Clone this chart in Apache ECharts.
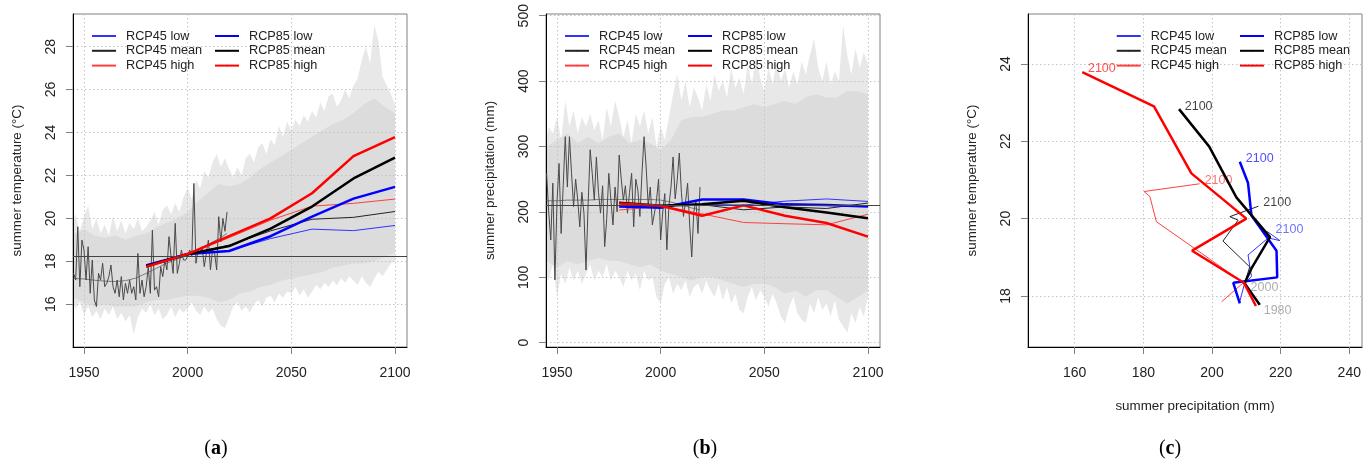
<!DOCTYPE html>
<html><head><meta charset="utf-8">
<script src="https://cdn.jsdelivr.net/npm/echarts@6/dist/echarts.min.js"></script>
<style>html,body{margin:0;padding:0;background:#fff}#c{width:1370px;height:466px}</style>
</head><body><div id="c"></div>
<script>
// ---------------- DATA ----------------
const scenYears = [1980, 2000, 2020, 2040, 2060, 2080, 2100];
const tempRcp45Low  = [17.82, 18.33, 18.50, 19.06, 19.50, 19.43, 19.67];
const tempRcp45Mean = [17.80, 18.33, 18.75, 19.42, 19.96, 20.05, 20.32];
const tempRcp45High = [17.85, 18.34, 19.10, 19.92, 20.57, 20.70, 20.90];
const tempRcp85Low  = [17.81, 18.34, 18.48, 19.17, 20.08, 20.92, 21.47];
const tempRcp85Mean = [17.77, 18.33, 18.71, 19.52, 20.55, 21.86, 22.83];
const tempRcp85High = [17.74, 18.34, 19.17, 20.00, 21.17, 22.90, 23.79];
const precRcp45Low  = [208.0, 209.5, 211.5, 210.5, 216.4, 219.8, 216.0];
const precRcp45Mean = [214.0, 209.5, 211.0, 203.2, 207.6, 205.2, 213.5];
const precRcp45High = [202.8, 209.1, 197.0, 183.8, 181.9, 180.2, 196.4];
const precRcp85Low  = [208.1, 206.2, 219.0, 218.8, 211.5, 210.5, 208.1];
const precRcp85Mean = [213.9, 209.5, 211.5, 216.9, 207.1, 199.2, 190.4];
const precRcp85High = [212.8, 209.3, 194.2, 210.0, 194.0, 183.1, 162.2];

const obsStartYear = 1945;
const obsTempA = [17.44,17.13,19.61,16.82,18.99,18.53,17.13,18.68,16.51,18.06,
  16.20,15.89,17.44,17.13,17.91,16.82,16.98,17.29,17.83,16.82,
  16.51,17.13,16.35,17.29,16.20,16.98,16.51,17.13,16.51,16.82,
  16.20,18.37,16.51,17.13,16.35,16.82,17.75,16.51,19.46,16.66,
  16.82,16.35,17.75,17.29,18.06,17.60,19.15,18.22,17.44,19.77,
  17.44,17.91,18.53,18.06,18.06,18.22,18.53,18.22,21.63,17.91,
  18.53,18.37,18.68,17.75,18.37,18.99,17.60,18.53,18.37,17.60,
  20.08,18.9,20.0,19.4,20.3];
const obsPrecB = [259,200,157,244,96,215,274,167,240,315,
  238,315,260,208,250,218,177,230,198,111,
  210,295,259,218,284,230,198,240,147,190,
  259,218,180,238,200,287,250,218,240,198,
  230,259,177,250,233,193,260,315,269,210,
  238,180,198,218,250,157,200,228,142,210,
  238,284,220,249,290,230,193,215,244,180,
  131,200,218,167,238];

const smoothYears = [1945,1950,1955,1960,1965,1970,1975,1980,1985,1990,1995,2000,2005,2010,2015,2019];
const smoothTempA = [17.2,17.18,17.12,17.08,17.06,17.1,17.22,17.44,17.68,17.92,18.1,18.3,18.55,18.8,19.05,19.3];
const smoothPrecB = [217,217,218,218,218,219,219,219,219,219,219,218,215,211,206,203];

const refTempA = 18.22;
const refPrecB = 209.5;

// ensemble envelope (every 2 years from 1944 to 2100)
const envStartYear = 1944;
const envUpperA = [19.6,20.2,19.4,20.1,20.6,19.5,20.0,19.3,19.7,19.2,
  20.1,19.4,19.9,19.3,19.8,19.5,20.0,19.4,19.6,19.9,
  20.3,19.7,20.4,20.6,20.2,20.7,20.3,21.0,21.4,20.9,
  21.8,21.4,22.2,21.9,22.6,23.0,22.4,22.8,22.3,21.9,
  22.4,22.0,22.8,23.0,22.6,23.3,23.5,23.0,23.7,23.4,
  24.3,23.8,24.5,24.1,24.6,24.3,24.8,24.5,25.0,24.7,
  25.4,25.0,25.7,25.8,25.2,25.5,26.0,25.6,26.2,26.5,
  27.4,28.0,27.2,29.0,28.3,26.6,26.2,25.8,25.3];
const envLowerA = [16.2,15.8,16.1,15.5,15.9,15.4,15.7,15.3,15.8,15.5,
  15.9,15.3,15.6,15.2,15.5,14.6,15.4,15.8,15.6,16.0,
  15.5,15.8,15.3,15.5,15.9,15.4,15.8,15.6,15.8,16.1,
  15.7,15.5,15.9,15.6,15.8,15.3,15.0,14.9,15.4,15.9,
  16.1,15.7,15.9,15.6,16.0,16.2,15.9,16.3,16.4,16.1,
  16.5,16.3,16.6,16.5,16.8,16.4,16.7,16.3,16.6,16.9,
  16.7,17.0,16.8,17.1,16.9,17.2,17.0,17.3,17.1,16.9,
  17.3,17.0,16.8,17.2,17.5,17.3,17.6,17.9,18.0];
const envUpperB = [300,330,320,345,310,370,330,355,320,345,
  330,350,325,340,310,360,330,370,345,315,
  340,305,350,330,355,320,345,300,330,310,
  345,380,410,370,400,360,390,375,355,395,
  370,410,385,400,375,420,390,405,380,425,
  395,440,405,385,420,395,430,400,420,390,
  415,395,430,410,440,465,420,400,430,395,
  415,400,485,440,410,450,420,445,425];
const envLowerB = [110,95,120,70,105,90,115,95,110,90,
  105,120,95,110,100,120,95,110,100,85,
  110,95,105,80,110,95,100,70,60,90,
  100,75,90,80,95,70,85,90,75,95,
  80,70,90,65,85,60,75,50,45,70,
  85,65,80,70,55,75,60,40,30,55,
  70,45,35,30,60,45,70,50,60,40,
  65,35,25,15,45,30,55,40,70];
// dense core of the ensemble (every 5 years, 1945-2100)
const coreStartYear = 1945;
const coreUpperA = [19.3,19.5,19.2,19.1,19.2,19.0,19.2,19.3,19.6,19.8,20.0,20.3,20.8,21.2,21.6,21.5,21.6,21.9,22.3,22.6,22.9,23.2,23.5,23.8,24.1,24.4,24.6,24.9,25.3,25.6,25.2,24.9];
const coreLowerA = [16.3,16.1,15.9,16.0,15.9,15.9,15.9,16.1,16.2,16.2,16.3,16.4,16.4,16.3,16.1,16.2,16.5,16.6,16.8,16.9,17.1,17.2,17.3,17.4,17.5,17.7,17.8,17.9,17.9,18.0,18.2,18.4];
const coreUpperB = [300,310,320,305,315,305,315,320,305,310,305,295,310,340,345,345,350,355,355,360,365,360,365,370,365,375,380,375,375,385,385,380];
const coreLowerB = [125,115,125,120,125,130,125,125,120,115,120,110,105,100,95,100,100,95,90,85,90,90,85,75,80,70,80,80,70,60,70,80];

// tick labels
const xTicksYears = [1950, 2000, 2050, 2100];
const yTicksTemp = [16, 18, 20, 22, 24, 26, 28];
const yTicksPrec = [0, 100, 200, 300, 400, 500];
const xTicksPrecC = [160, 180, 200, 220, 240];
const yTicksTempC = [18, 20, 22, 24];
const legend45 = ['RCP45 low', 'RCP45 mean', 'RCP45 high'];
const legend85 = ['RCP85 low', 'RCP85 mean', 'RCP85 high'];
const panelLetters = ['a', 'b', 'c'];

// ---------------- CHART ----------------
const FONT = "'Liberation Sans', Arial, sans-serif";
const chart = echarts.init(document.getElementById('c'), null, {renderer: 'canvas'});

function years(start, step, n) { const r = []; for (let i = 0; i < n; i++) r.push(start + i * step); return r; }
const obsYears = years(obsStartYear, 1, obsTempA.length);
const envYears = years(envStartYear, 2, envUpperA.length);
const coreYears = years(coreStartYear, 5, coreUpperA.length);

const styles = {
  'RCP45 low':  {color: '#3333ff', width: 1},
  'RCP45 mean': {color: '#222222', width: 1},
  'RCP45 high': {color: '#ff4040', width: 1},
  'RCP85 low':  {color: '#0000ff', width: 2.5},
  'RCP85 mean': {color: '#000000', width: 2.5},
  'RCP85 high': {color: '#ff0000', width: 2.5}
};
const tempSets = {'RCP45 low': tempRcp45Low, 'RCP45 mean': tempRcp45Mean, 'RCP45 high': tempRcp45High,
  'RCP85 low': tempRcp85Low, 'RCP85 mean': tempRcp85Mean, 'RCP85 high': tempRcp85High};
const precSets = {'RCP45 low': precRcp45Low, 'RCP45 mean': precRcp45Mean, 'RCP45 high': precRcp45High,
  'RCP85 low': precRcp85Low, 'RCP85 mean': precRcp85Mean, 'RCP85 high': precRcp85High};
const order = legend45.concat(legend85);
const plainNum = v => String(v);

function xAxisCfg(gi, min, max, ticks, name) {
  return {
    type: 'value', gridIndex: gi, min: min, max: max,
    name: name || '', nameLocation: 'middle', nameGap: 53,
    nameTextStyle: {fontSize: 13.4, color: '#222', fontFamily: FONT},
    axisLine: {show: true, onZero: false, lineStyle: {color: '#000', width: 1}},
    axisTick: {show: true, length: 7, customValues: ticks, lineStyle: {color: '#808080'}},
    axisLabel: {customValues: ticks, formatter: plainNum, margin: 19, fontSize: 14, color: '#222', fontFamily: FONT},
    splitLine: {show: true, lineStyle: {color: '#c4c4c4', type: [1.5, 2.5], width: 1}}
  };
}
function yAxisCfg(gi, min, max, ticks, name) {
  return {
    type: 'value', gridIndex: gi, min: min, max: max,
    name: name, nameLocation: 'middle', nameGap: 49,
    nameTextStyle: {fontSize: 13.4, color: '#222', fontFamily: FONT},
    axisLine: {show: true, onZero: false, lineStyle: {color: '#000', width: 1}},
    axisTick: {show: true, length: 7, customValues: ticks, lineStyle: {color: '#808080'}},
    axisLabel: {customValues: ticks, formatter: plainNum, rotate: 90, margin: 15, fontSize: 14, color: '#222', fontFamily: FONT},
    splitLine: {show: true, lineStyle: {color: '#c4c4c4', type: [1.5, 2.5], width: 1}}
  };
}
// ensemble band drawn as a polygon through the axis scales
function band(ai, xs, lower, upper, color, id) {
  return {
    type: 'custom', name: id, xAxisIndex: ai, yAxisIndex: ai, silent: true, clip: true, z: -1,
    data: xs.map((x, i) => [x, lower[i], upper[i]]),
    encode: {x: 0, y: [1, 2]},
    renderItem: function (params, api) {
      if (params.dataIndex !== 0) return null;
      const pts = [];
      for (let i = 0; i < xs.length; i++) pts.push(api.coord([xs[i], upper[i]]));
      for (let i = xs.length - 1; i >= 0; i--) pts.push(api.coord([xs[i], lower[i]]));
      const cs = params.coordSys;
      return {type: 'polygon', shape: {points: pts}, style: {fill: color, stroke: null},
        clipPath: {type: 'rect', shape: {x: cs.x, y: cs.y, width: cs.width, height: cs.height}}};
    }
  };
}
function plainLine(ai, name, data, color, width, extra) {
  return Object.assign({type: 'line', name: name, xAxisIndex: ai, yAxisIndex: ai, data: data,
    symbol: 'none', silent: true, emphasis: {disabled: true},
    itemStyle: {color: color}, lineStyle: {color: color, width: width}}, extra || {});
}
function refLine(v) {
  return {silent: true, symbol: 'none', label: {show: false}, emphasis: {disabled: true},
    lineStyle: {color: '#444', type: 'solid', width: 1.2}, data: [{yAxis: v}]};
}

const series = [];
// Panel a
series.push(band(0, envYears, envLowerA, envUpperA, '#e8e8e8', 'envA'));
series.push(band(0, coreYears, coreLowerA, coreUpperA, '#dcdcdc', 'coreA'));
series.push(plainLine(0, 'smoothA', smoothYears.map((y, i) => [y, smoothTempA[i]]), '#7a7a7a', 1));
series.push(plainLine(0, 'obsA', obsYears.map((y, i) => [y, obsTempA[i]]), '#4a4a4a', 1, {markLine: refLine(refTempA)}));
order.forEach(n => series.push(plainLine(0, n, scenYears.map((y, i) => [y, tempSets[n][i]]), styles[n].color, styles[n].width)));
// Panel b
series.push(band(1, envYears, envLowerB, envUpperB, '#e8e8e8', 'envB'));
series.push(band(1, coreYears, coreLowerB, coreUpperB, '#dcdcdc', 'coreB'));
series.push(plainLine(1, 'smoothB', smoothYears.map((y, i) => [y, smoothPrecB[i]]), '#7a7a7a', 1));
series.push(plainLine(1, 'obsB', obsYears.map((y, i) => [y, obsPrecB[i]]), '#4a4a4a', 1, {markLine: refLine(refPrecB)}));
order.forEach(n => series.push(plainLine(1, n, scenYears.map((y, i) => [y, precSets[n][i]]), styles[n].color, styles[n].width)));
// Panel c
order.forEach(n => series.push(plainLine(2, n, scenYears.map((y, i) => [precSets[n][i], tempSets[n][i]]), styles[n].color, styles[n].width)));
// year labels in panel c
const last = scenYears.length - 1;
const labelOffsets = {
  'RCP45 low': [8.7, -2.3], 'RCP45 mean': [5, -3.7], 'RCP45 high': [5, -3],
  'RCP85 low': [6, -3.3], 'RCP85 mean': [5.7, -2.3], 'RCP85 high': [5.7, -3.3]
};
const labelColors = {'RCP45 low': '#4d4dff', 'RCP45 mean': '#111', 'RCP45 high': '#ff4d4d',
  'RCP85 low': '#2222ff', 'RCP85 mean': '#111', 'RCP85 high': '#ff2020'};
const yearLabelData = order.map(n => ({
  value: [precSets[n][last], tempSets[n][last]],
  label: {formatter: String(scenYears[last]), color: labelColors[n], offset: labelOffsets[n]}
}));
yearLabelData.push({value: [precRcp85Mean[1], tempRcp85Mean[1]], label: {formatter: String(scenYears[1]), color: '#999', offset: [6, 4]}});
yearLabelData.push({value: [precRcp85Mean[0], tempRcp85Mean[0]], label: {formatter: String(scenYears[0]), color: '#999', offset: [4, 6]}});
series.push({type: 'scatter', name: 'yearLabels', xAxisIndex: 2, yAxisIndex: 2, symbolSize: 0.01, silent: true,
  itemStyle: {color: 'rgba(0,0,0,0)'}, emphasis: {disabled: true},
  label: {show: true, position: 'right', distance: 0, fontSize: 12.5, fontFamily: FONT},
  data: yearLabelData});

function legendCfg(left, names) {
  return {orient: 'vertical', left: left, top: 24, itemWidth: 24, itemHeight: 2, itemGap: 0.8,
    selectedMode: false, padding: 5, data: names,
    textStyle: {fontSize: 12.7, color: '#222', lineHeight: 14, padding: [0, 0, 0, 5], fontFamily: FONT}};
}

const gridBase = {top: 14, height: 333, width: 334, show: true, borderColor: '#808080', borderWidth: 1,
  backgroundColor: 'transparent', outerBoundsMode: 'none', containLabel: false};

const option = {
  animation: false,
  backgroundColor: '#fff',
  textStyle: {fontFamily: FONT},
  grid: [
    Object.assign({}, gridBase, {left: 73}),
    Object.assign({}, gridBase, {left: 546}),
    Object.assign({}, gridBase, {left: 1028})
  ],
  xAxis: [
    xAxisCfg(0, 1944.7, 2105.8, xTicksYears),
    xAxisCfg(1, 1944.7, 2105.8, xTicksYears),
    xAxisCfg(2, 146.4, 243.7, xTicksPrecC, 'summer precipitation (mm)')
  ],
  yAxis: [
    yAxisCfg(0, 14.01, 29.52, yTicksTemp, 'summer temperature (°C)'),
    yAxisCfg(1, -6.6, 502.6, yTicksPrec, 'summer precipitation (mm)'),
    yAxisCfg(2, 16.68, 25.29, yTicksTempC, 'summer temperature (°C)')
  ],
  legend: [
    legendCfg(86, legend45), legendCfg(209, legend85),
    legendCfg(559, legend45), legendCfg(682, legend85),
    legendCfg(1110.7, legend45), legendCfg(1234, legend85)
  ],
  graphic: panelLetters.map((l, i) => ({
    type: 'text', x: [216, 705, 1170][i], y: 449, silent: true,
    style: {text: '{p|(}{b|' + l + '}{p|)}', align: 'center', verticalAlign: 'middle',
      rich: {p: {fontSize: 20, fontFamily: "'Liberation Serif', 'DejaVu Serif', serif", fill: '#000'},
             b: {fontSize: 20, fontWeight: 'bold', fontFamily: "'Liberation Serif', 'DejaVu Serif', serif", fill: '#000'}}}
  })),
  series: series
};
chart.setOption(option);
</script></body></html>
